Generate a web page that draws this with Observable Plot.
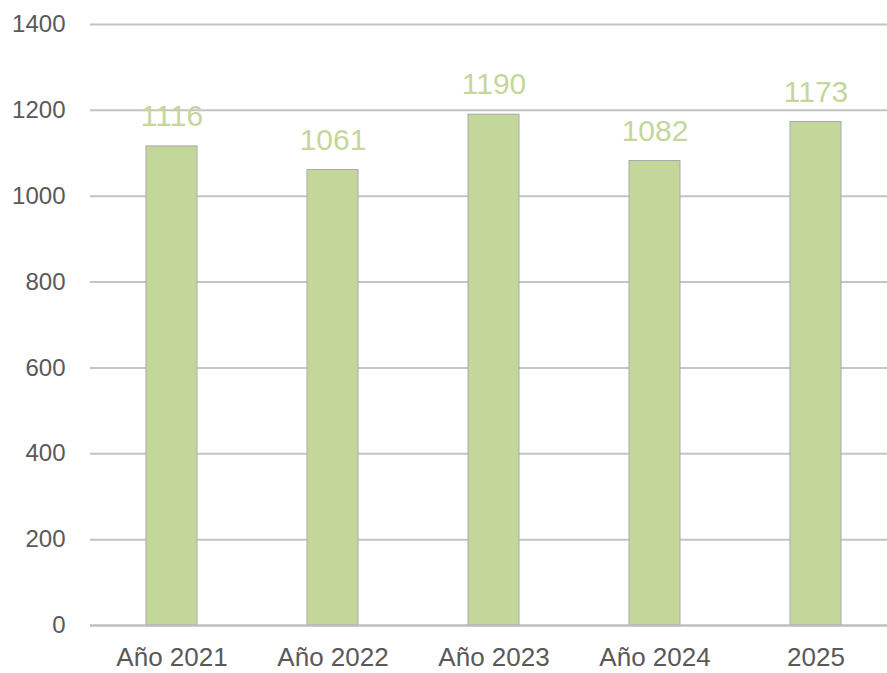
<!DOCTYPE html>
<html>
<head>
<meta charset="utf-8">
<script src="https://cdn.jsdelivr.net/npm/d3@7"></script>
<script src="https://cdn.jsdelivr.net/npm/@observablehq/plot@0.6"></script>
<style>
  html, body { margin: 0; padding: 0; background: #ffffff; }
</style>
</head>
<body>
<div id="chart"></div>
<script>
const years = ["Año 2021", "Año 2022", "Año 2023", "Año 2024", "2025"];
const values = [1116, 1061, 1190, 1082, 1173];
const yTicks = [0, 200, 400, 600, 800, 1000, 1200, 1400];

const data = years.map((year, i) => ({year, value: values[i]}));

const chart = Plot.plot({
  width: 887,
  height: 673,
  marginTop: 24,
  marginBottom: 48,
  marginLeft: 90,
  marginRight: 0,
  style: {fontFamily: "'Liberation Sans', Arial, sans-serif", background: "#ffffff", overflow: "hidden"},
  x: {domain: years, range: [89, 898], paddingInner: 0.685, paddingOuter: 0.3425, label: null},
  y: {domain: [0, 1400], label: null},
  marks: [
    Plot.gridY(yTicks, {stroke: "#c4c4c4", strokeOpacity: 1, strokeWidth: 2}),
    Plot.barY(data, {x: "year", y: "value", fill: "#c4d79b", stroke: "#a9a9a9", strokeWidth: 1}),
    Plot.ruleY([0], {stroke: "#bdbdbd", strokeWidth: 2}),
    Plot.text(data, {x: "year", y: "value", text: d => String(d.value), dy: -30, fill: "#c4d79b", fontSize: 30}),
    Plot.axisY(yTicks, {tickSize: 0, tickPadding: 25, fontSize: 24, fill: "#595959", label: null, tickFormat: d => String(d)}),
    Plot.axisX({tickSize: 0, tickPadding: 22, fontSize: 26, fill: "#595959", label: null})
  ]
});
document.getElementById("chart").append(chart);
</script>
</body>
</html>
